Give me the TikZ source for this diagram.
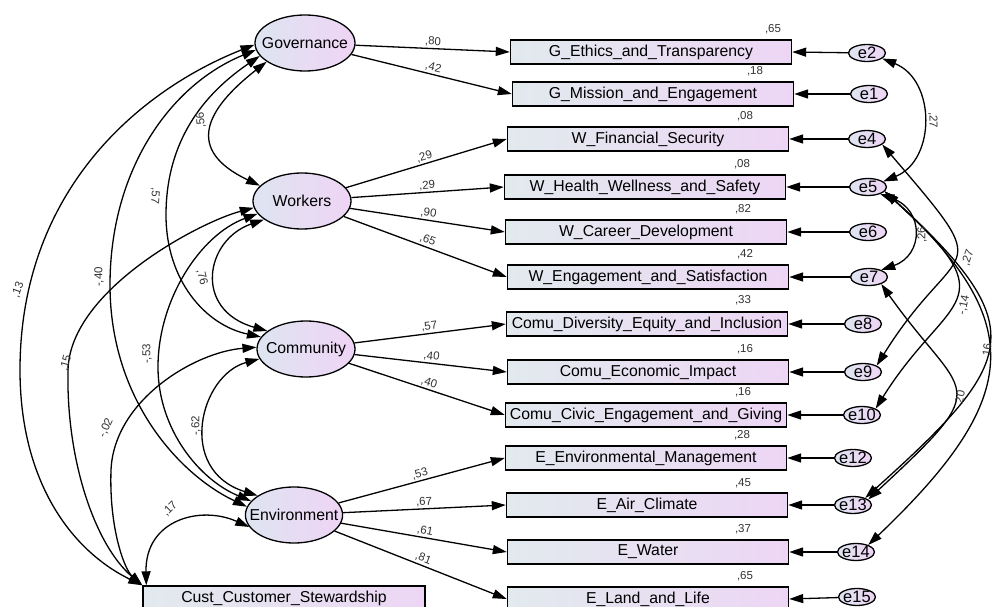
\documentclass[tikz,border=0pt]{standalone}
\usepackage{fontspec}
\setmainfont{Liberation Sans}
\usetikzlibrary{arrows.meta,shapes.geometric}
\definecolor{boxL}{RGB}{226,234,238}
\definecolor{boxR}{RGB}{237,214,245}
\definecolor{latL}{RGB}{222,229,240}
\definecolor{latR}{RGB}{239,212,245}
\definecolor{txt}{RGB}{50,50,50}
\tikzset{
	latent/.style={ellipse,draw,line width=1.3pt,left color=latL,right color=latR,inner xsep=-10pt,inner ysep=0pt,minimum width=98pt,minimum height=56pt,font=\fontsize{15.8}{18}\selectfont},
	observed/.style={rectangle,draw,line width=1.4pt,left color=boxL,right color=boxR,inner sep=0pt,minimum width=281pt,minimum height=24pt,font=\fontsize{15.8}{18}\selectfont},
	err/.style={ellipse,draw,line width=1.3pt,left color=latL,right color=latR,inner xsep=-1pt,inner ysep=0pt,minimum width=37pt,minimum height=17pt,font=\fontsize{16.5}{18}\selectfont},
	coef/.style={font=\fontsize{11.5}{13}\selectfont,text=txt,inner sep=1.5pt},
	load/.style={-{Triangle[length=14pt,width=9pt]},line width=1.3pt},
	cov/.style={{Triangle[length=14pt,width=9pt]}-{Triangle[length=14pt,width=9pt]},line width=1.3pt}
}
\begin{document}
\begin{tikzpicture}[x=1pt,y=-1pt]
			\useasboundingbox (0,0) rectangle (997,607);

			\node (gov) at (305,43)[latent,minimum width=100pt]{Governance};
			\node (wor) at (302,201)[latent]{Workers};
			\node (com) at (306,349)[latent]{Community};
			\node (env) at (294,515)[latent,minimum width=97pt]{Environment};

			\node (getr) at (651,52)[observed]{G\_Ethics\_and\_Transparency};
			\node (gmis) at (653,94)[observed]{G\_Mission\_and\_Engagement};
			\node (wfin) at (648,139)[observed]{W\_Financial\_Security};
			\node (whea) at (645,187)[observed]{W\_Health\_Wellness\_and\_Safety};
			\node (wcar) at (646,232)[observed]{W\_Career\_Development};
			\node (weng) at (648,277)[observed]{W\_Engagement\_and\_Satisfaction};
			\node (cdiv) at (647,324)[observed]{Comu\_Diversity\_Equity\_and\_Inclusion};
			\node (ceco) at (648,372)[observed]{Comu\_Economic\_Impact};
			\node (cciv) at (646,415)[observed]{Comu\_Civic\_Engagement\_and\_Giving};
			\node (eenv) at (646,458)[observed]{E\_Environmental\_Management};
			\node (eair) at (647,505)[observed]{E\_Air\_Climate};
			\node (ewat) at (648,552)[observed]{E\_Water};
			\node (elan) at (648,599)[observed]{E\_Land\_and\_Life};
			\node (cust) at (284,598)[observed,minimum width=282pt]{Cust\_Customer\_Stewardship};

			\node (e2) at (867,53)[err]{e2};
			\node (e1) at (869,94)[err]{e1};
			\node (e4) at (867,139)[err]{e4};
			\node (e5) at (868,187)[err]{e5};
			\node (e6) at (868,232)[err]{e6};
			\node (e7) at (869,277)[err]{e7};
			\node (e8) at (863,324)[err]{e8};
			\node (e9) at (863,372)[err]{e9};
			\node (e10) at (862,415)[err]{e10};
			\node (e12) at (853,458)[err]{e12};
			\node (e13) at (853,505)[err]{e13};
			\node (e14) at (856,552)[err]{e14};
			\node (e15) at (857,597)[err]{e15};

			\node (rgetr) at (773,29)[coef]{,65};
			\node (rgmis) at (755,71)[coef]{,18};
			\node (rwfin) at (745,116)[coef]{,08};
			\node (rwhea) at (742,164)[coef]{,08};
			\node (rwcar) at (743,209)[coef]{,82};
			\node (rweng) at (745,254)[coef]{,42};
			\node (rcdiv) at (743,300)[coef]{,33};
			\node (rceco) at (745,349)[coef]{,16};
			\node (rcciv) at (743,392)[coef]{,16};
			\node (reenv) at (742,435)[coef]{,28};
			\node (reair) at (743,483)[coef]{,45};
			\node (rewat) at (743,529)[coef]{,37};
			\node (relan) at (745,576)[coef]{,65};

			\draw[load] (gov) -- (getr.west) node (lgetr)[coef,pos=0.5,above,sloped]{,80};
			\draw[load] (gov) -- (gmis.west) node (lgmis)[coef,pos=0.5,above,sloped]{,42};
			\draw[load] (wor) -- (wfin.west) node (lwfin)[coef,pos=0.5,above,sloped]{,29};
			\draw[load] (wor) -- (whea.west) node (lwhea)[coef,pos=0.5,above,sloped]{,29};
			\draw[load] (wor) -- (wcar.west) node (lwcar)[coef,pos=0.5,above,sloped]{,90};
			\draw[load] (wor) -- (weng.west) node (lweng)[coef,pos=0.5,above,sloped]{,65};
			\draw[load] (com) -- (cdiv.west) node (lcdiv)[coef,pos=0.5,above,sloped]{,57};
			\draw[load] (com) -- (ceco.west) node (lceco)[coef,pos=0.5,above,sloped]{,40};
			\draw[load] (com) -- (cciv.west) node (lcciv)[coef,pos=0.5,above,sloped]{,40};
			\draw[load] (env) -- (eenv.west) node (leenv)[coef,pos=0.5,above,sloped]{,53};
			\draw[load] (env) -- (eair.west) node (leair)[coef,pos=0.5,above,sloped]{,67};
			\draw[load] (env) -- (ewat.west) node (lewat)[coef,pos=0.5,above,sloped]{,61};
			\draw[load] (env) -- (elan.west) node (lelan)[coef,pos=0.5,above,sloped]{,81};

			\draw[load] (e2) -- (getr.east);
			\draw[load] (e1) -- (gmis.east);
			\draw[load] (e4) -- (wfin.east);
			\draw[load] (e5) -- (whea.east);
			\draw[load] (e6) -- (wcar.east);
			\draw[load] (e7) -- (weng.east);
			\draw[load] (e8) -- (cdiv.east);
			\draw[load] (e9) -- (ceco.east);
			\draw[load] (e10) -- (cciv.east);
			\draw[load] (e12) -- (eenv.east);
			\draw[load] (e13) -- (eair.east);
			\draw[load] (e14) -- (ewat.east);
			\draw[load] (e15) -- (elan.east);

			\draw[cov] (gov.182) .. controls (140,90) and (20,190) .. (20,370) .. controls (20,480) and (70,550) .. (cust.north west);
			\draw[cov] (gov.188) .. controls (170,85) and (110,170) .. (110,285) .. controls (110,400) and (180,475) .. (env.170);
			\draw[cov] (gov.196) .. controls (195,100) and (166,150) .. (166,215) .. controls (166,280) and (205,325) .. (com.165);
			\draw[cov] (gov.206) .. controls (205,110) and (185,150) .. (wor.160);
			\draw[cov] (wor.188) .. controls (200,222) and (70,290) .. (68,370) .. controls (66,460) and (95,545) .. (cust.north west);
			\draw[cov] (wor.206) .. controls (205,240) and (193,310) .. (com.155);
			\draw[cov] (wor.196) .. controls (200,235) and (158,300) .. (158,367) .. controls (158,430) and (200,480) .. (env.162);
			\draw[cov] (com.178) .. controls (195,352) and (114,400) .. (111,470) .. controls (109,530) and (125,570) .. (cust.north west);
			\draw[cov] (com.192) .. controls (200,375) and (176,470) .. (env.152);
			\draw[cov] (env.195) .. controls (200,505) and (145,520) .. ([xshift=4pt]cust.north west);

			\node (c13) at (18,290)[coef,rotate=70]{,13};
			\node (c40) at (99,277)[coef,rotate=90]{-,40};
			\node (c56) at (201,120)[coef,rotate=95]{,56};
			\node (c57) at (155,196)[coef,rotate=-95]{,57};
			\node (c76) at (202,277)[coef,rotate=-75]{,76};
			\node (c15) at (66,363)[coef,rotate=75]{,15};
			\node (c53) at (147,354)[coef,rotate=90]{-,53};
			\node (c02) at (106,428)[coef,rotate=65]{-,02};
			\node (c62) at (196,426)[coef,rotate=90]{-,62};
			\node (c17) at (170,509)[coef,rotate=45]{,17};

			\draw[cov] (e2.340) .. controls (936,80) and (936,160) .. (e5.20);
			\draw[cov] (e5.330) .. controls (924,210) and (924,255) .. (e7.30);
			\draw[cov] (e4.340) .. controls (1001,283) and (958,235) .. (e9.25);
			\draw[cov] (e5.345) .. controls (1011,306) and (948,293) .. (e10.25);
			\draw[cov] (e5.345) .. controls (1035,328) and (1016,362) .. (e13.30);
			\draw[cov] (e5.345) .. controls (1032,325) and (1018,402) .. (e14.30);
			\draw[cov] (e7.330) .. controls (964,401) and (998,379) .. (e13.20);

			\node (c25) at (933,120)[coef,rotate=-90]{,27};
			\node (c57e) at (922,235)[coef,rotate=90]{,26};
			\node (c49) at (968,258)[coef,rotate=70]{,27};
			\node (c510) at (964,305)[coef,rotate=78]{-,14};
			\node (c713) at (960,397)[coef,rotate=78]{20};
			\node (c514) at (987,350)[coef,rotate=82]{16};
		\end{tikzpicture}
\end{document}
